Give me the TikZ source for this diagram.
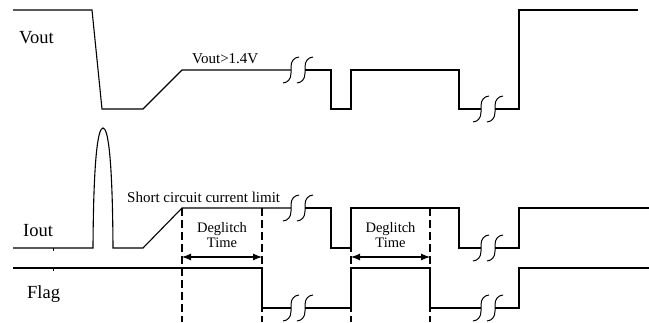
\documentclass[tikz,border=0pt]{standalone}
\usepackage{fontspec}
\setmainfont{Liberation Serif}
\usetikzlibrary{arrows.meta}
\begin{document}
\begin{tikzpicture}[x=1pt,y=1pt,
  wave/.style={line width=1.1pt, line join=miter},
  dline/.style={line width=1.9pt, dash pattern=on 8pt off 4pt},
  brkS/.pic={\draw[line width=1pt] (-8,-13) .. controls (-3,-12.5) and (0,-9) .. (0,-3) -- (0,3) .. controls (0,9) and (3,12.5) .. (8,13);},
  big/.style={font=\fontsize{18.5}{20}\selectfont, inner sep=0pt, anchor=base west},
  small/.style={font=\fontsize{15}{17}\selectfont, inner sep=0pt},
  dgl/.style={font=\fontsize{14.5}{16}\selectfont, inner sep=0pt, anchor=base},
  dim/.style={line width=1.1pt, {Latex[length=9pt,width=7pt]}-{Latex[length=9pt,width=7pt]}},
]
\useasboundingbox (0,0) rectangle (649,322);

% labels
\node[big] (lvout) at (19,278) {Vout};
\node[big] (liout) at (23,85) {Iout};
\node[big] (lflag) at (27,24) {Flag};
\node[small, anchor=base west] (lvth) at (192,258) {Vout>1.4V};
\node[small, anchor=base west] (lscl) at (127,119) {Short circuit current limit};
\node[dgl] (dg1) at (222,89) {Deglitch};
\node[dgl] (tm1) at (222,75) {Time};
\node[dgl] (dg2) at (390.5,89) {Deglitch};
\node[dgl] (tm2) at (390.5,75) {Time};

% Vout waveform
\draw[wave] (13,312) -- (92,312) -- (102,213) -- (143,213) -- (182,252) -- (291,252);
\draw[wave] (305,252) -- (331,252) -- (331,213) -- (351,213) -- (351,252) -- (459,252) -- (459,213) -- (481,213);
\draw[wave] (495,213) -- (519,213) -- (519,312) -- (638,312);
\pic at (291,252) {brkS};
\pic at (305,252) {brkS};
\pic at (481,213) {brkS};
\pic at (495,213) {brkS};

% Iout waveform
\draw[wave] (13,74) -- (93,74) .. controls (93.5,165) and (98,194) .. (103,194) .. controls (108,194) and (112.5,165) .. (113,74) -- (143,74) -- (182,114) -- (291,114);
\draw[wave] (305,114) -- (331,114) -- (331,74) -- (351,74) -- (351,114) -- (459,114) -- (459,74) -- (481,74);
\draw[wave] (495,74) -- (519,74) -- (519,114) -- (649,114);
\pic at (291,114) {brkS};
\pic at (305,114) {brkS};
\pic at (481,74) {brkS};
\pic at (495,74) {brkS};

% Flag waveform
\draw[wave] (13,54) -- (262,54) -- (262,14) -- (291,14);
\draw[wave] (305,14) -- (351,14) -- (351,54) -- (430,54) -- (430,14) -- (481,14);
\draw[wave] (495,14) -- (519,14) -- (519,54) -- (649,54);
\pic at (291,14) {brkS};
\pic at (305,14) {brkS};
\pic at (481,14) {brkS};
\pic at (495,14) {brkS};

% small ticks
\draw[line width=0.6pt] (53,74) -- (53,71.5);
\draw[line width=0.6pt] (53,54) -- (53,51.5);

% dashed markers
\coordinate (d1t) at (182,114); \coordinate (d1b) at (182,0);
\coordinate (d2t) at (262,114); \coordinate (d2b) at (262,0);
\coordinate (d3t) at (351,114); \coordinate (d3b) at (351,0);
\coordinate (d4t) at (430,114); \coordinate (d4b) at (430,0);
\draw[dline] (d1t) -- (d1b);
\draw[dline] (d2t) -- (d2b);
\draw[dline] (d3t) -- (d3b);
\draw[dline] (d4t) -- (d4b);

% deglitch arrows
\coordinate (a1l) at (182,65); \coordinate (a1r) at (262,65);
\coordinate (a2l) at (351,65); \coordinate (a2r) at (430,65);
\draw[dim] (a1l) -- (a1r);
\draw[dim] (a2l) -- (a2r);
\end{tikzpicture}
\end{document}
